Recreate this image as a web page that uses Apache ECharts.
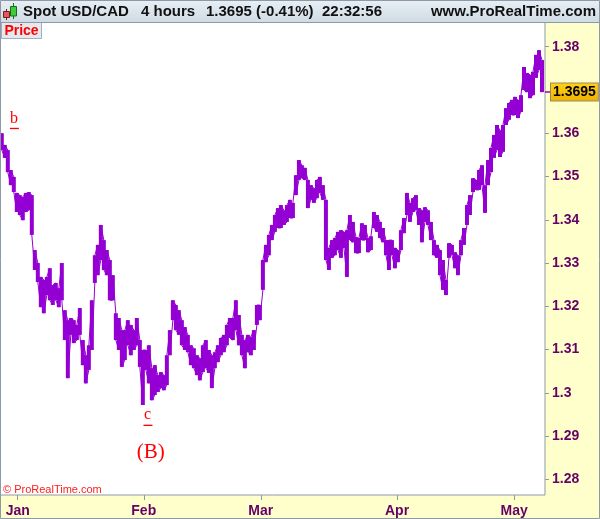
<!DOCTYPE html>
<html><head><meta charset="utf-8">
<script src="https://cdn.jsdelivr.net/npm/echarts@6/dist/echarts.min.js"></script>
<style>html,body{margin:0;padding:0;background:#ffffcc}#c{width:600px;height:519px}</style>
</head><body><div id="c"></div>
<script>
// ---- data ----
const monthLabels = ['Jan', 'Feb', 'Mar', 'Apr', 'May'];
const monthTickAt = [5.3, 47.3, 86.3, 131.7, 170.7]; // sample index where each month starts
const priceTicks = [1.28, 1.29, 1.30, 1.31, 1.32, 1.33, 1.34, 1.35, 1.36, 1.37, 1.38];
const priceTickLabels = ['1.28', '1.29', '1.3', '1.31', '1.32', '1.33', '1.34', '1.35', '1.36', '1.37', '1.38'];
const shownPriceTicks = [1.28, 1.29, 1.30, 1.31, 1.32, 1.33, 1.34, 1.35, 1.36, 1.38];
// 4-hour price range, one entry per sample (high / low)
const hi = [
1.3600,1.3573,1.3561,1.3515,1.3499,1.3462,1.3457,1.3453,1.3462,1.3464,
1.3457,1.3330,1.3300,1.3268,1.3261,1.3268,1.3288,1.3249,1.3254,1.3242,
1.3300,1.3191,1.3168,1.3173,1.3168,1.3157,1.3196,1.3122,1.3087,1.3110,
1.3214,1.3318,1.3342,1.3388,1.3353,1.3330,1.3307,1.3272,1.3184,1.3173,
1.3145,1.3145,1.3168,1.3157,1.3145,1.3173,1.3122,1.3099,1.3099,1.3110,
1.3057,1.3064,1.3041,1.3048,1.3041,1.3087,1.3145,1.3214,1.3203,1.3191,
1.3168,1.3152,1.3134,1.3110,1.3103,1.3087,1.3080,1.3110,1.3122,1.3099,
1.3087,1.3094,1.3110,1.3127,1.3134,1.3157,1.3173,1.3173,1.3214,1.3180,
1.3134,1.3122,1.3134,1.3130,1.3145,1.3203,1.3203,1.3307,1.3342,1.3365,
1.3388,1.3411,1.3427,1.3434,1.3422,1.3434,1.3446,1.3439,1.3503,1.3538,
1.3526,1.3520,1.3492,1.3480,1.3473,1.3492,1.3499,1.3480,1.3446,1.3335,
1.3353,1.3358,1.3372,1.3376,1.3372,1.3376,1.3411,1.3395,1.3360,1.3358,
1.3392,1.3388,1.3358,1.3362,1.3418,1.3411,1.3395,1.3381,1.3353,1.3353,
1.3353,1.3335,1.3330,1.3376,1.3404,1.3462,1.3439,1.3450,1.3457,1.3427,
1.3422,1.3429,1.3422,1.3395,1.3353,1.3342,1.3330,1.3307,1.3261,1.3346,
1.3342,1.3325,1.3318,1.3353,1.3381,1.3434,1.3457,1.3496,1.3492,1.3515,
1.3526,1.3480,1.3538,1.3566,1.3596,1.3619,1.3607,1.3619,1.3658,1.3670,
1.3677,1.3684,1.3677,1.3688,1.3753,1.3739,1.3735,1.3742,1.3781,1.3792,
1.3769];
const lo = [
1.3561,1.3543,1.3510,1.3480,1.3464,1.3418,1.3411,1.3399,1.3418,1.3422,
1.3365,1.3284,1.3256,1.3198,1.3184,1.3226,1.3214,1.3203,1.3214,1.3198,
1.3214,1.3122,1.3034,1.3134,1.3115,1.3122,1.3134,1.3064,1.3022,1.3053,
1.3099,1.3254,1.3272,1.3307,1.3284,1.3272,1.3214,1.3214,1.3122,1.3099,
1.3060,1.3076,1.3110,1.3087,1.3099,1.3110,1.3060,1.2972,1.3053,1.3022,
1.2983,1.2995,1.3002,1.3011,1.3006,1.3018,1.3087,1.3168,1.3145,1.3134,
1.3110,1.3099,1.3094,1.3064,1.3057,1.3041,1.3029,1.3048,1.3057,1.3046,
1.3011,1.3057,1.3071,1.3087,1.3094,1.3110,1.3127,1.3122,1.3145,1.3110,
1.3087,1.3057,1.3094,1.3087,1.3099,1.3157,1.3168,1.3238,1.3302,1.3318,
1.3353,1.3372,1.3381,1.3381,1.3388,1.3395,1.3404,1.3404,1.3457,1.3492,
1.3496,1.3492,1.3427,1.3446,1.3439,1.3450,1.3462,1.3446,1.3307,1.3284,
1.3312,1.3318,1.3330,1.3312,1.3335,1.3268,1.3353,1.3348,1.3323,1.3323,
1.3353,1.3353,1.3325,1.3330,1.3381,1.3372,1.3358,1.3348,1.3318,1.3284,
1.3318,1.3288,1.3302,1.3330,1.3369,1.3411,1.3395,1.3418,1.3422,1.3388,
1.3348,1.3395,1.3388,1.3353,1.3318,1.3312,1.3272,1.3238,1.3226,1.3312,
1.3318,1.3288,1.3272,1.3318,1.3342,1.3388,1.3411,1.3464,1.3469,1.3469,
1.3480,1.3416,1.3480,1.3510,1.3543,1.3561,1.3545,1.3557,1.3619,1.3631,
1.3642,1.3642,1.3635,1.3649,1.3700,1.3695,1.3681,1.3688,1.3728,1.3746,
1.3695];
const lastClose = 1.3695;
// wave annotations: [text, sample index, price, font size]
const waveLabels = [['b', 4.1, 1.3633, 16], ['c', 48.6, 1.2949, 16], ['(B)', 49.6, 1.2863, 21]];
const waveUnderlines = [[4.2, 1.3611], [48.7, 1.2925]];

// ---- build ----
const pts = [];
for (let k = 0; k < hi.length; k++) {
  if (k % 2 === 0) { pts.push([k, hi[k]]); pts.push([k, lo[k]]); }
  else { pts.push([k, lo[k]]); pts.push([k, hi[k]]); }
}
const ranges = hi.map((h, k) => [k, h, lo[k]]);
const SANS = '"Liberation Sans", Arial, sans-serif';
const SERIF = '"Liberation Serif", "Times New Roman", serif';
const AXC = '#660066';
const GREY = '#8d9aa6';
const PURPLE = '#9400d3';

const markPts = [];
waveLabels.forEach(w => markPts.push({
  coord: [w[1], w[2]], symbol: 'rect', symbolSize: [0.1, 0.1], itemStyle: {color: 'rgba(0,0,0,0)'},
  label: {show: true, position: 'inside', formatter: w[0], color: '#ff0000', fontFamily: SERIF, fontSize: w[3]}
}));
waveUnderlines.forEach(u => markPts.push({
  coord: [u[0], u[1]], symbol: 'rect', symbolSize: [9, 1.3], itemStyle: {color: '#ff0000'}, label: {show: false}
}));

const yCommon = {type: 'value', position: 'right', min: 1.2764, max: 1.3857, scale: true, splitLine: {show: false}};

const chart = echarts.init(document.getElementById('c'), null, {renderer: 'canvas'});
chart.setOption({
  animation: false,
  backgroundColor: '#ffffcc',
  grid: {left: 0, right: 55, top: 22, bottom: 24, show: true, backgroundColor: '#ffffff', borderColor: GREY, borderWidth: 1,
    containLabel: false, outerBoundsMode: 'none'},
  xAxis: {
    type: 'value', min: -0.6, max: 181,
    axisLine: {show: false, onZero: false}, splitLine: {show: false},
    axisTick: {show: true, customValues: monthTickAt, length: 5, lineStyle: {color: GREY}},
    axisLabel: {show: true, customValues: monthTickAt, margin: 9,
      formatter: v => monthLabels[monthTickAt.findIndex(t => Math.abs(t - v) < 1e-6)],
      color: AXC, fontWeight: 'bold', fontSize: 14, fontFamily: SANS}
  },
  yAxis: [Object.assign({}, yCommon, {
    axisLine: {show: false, onZero: false},
    axisTick: {show: true, customValues: shownPriceTicks, length: 4, lineStyle: {color: GREY}},
    axisLabel: {show: true, customValues: shownPriceTicks, margin: 7,
      formatter: v => priceTickLabels[priceTicks.findIndex(t => Math.abs(t - v) < 1e-9)],
      color: AXC, fontWeight: 'bold', fontSize: 14, fontFamily: SANS}
  }), Object.assign({}, yCommon, {
    axisLine: {show: false, onZero: false},
    axisTick: {show: true, customValues: [lastClose], length: 5, lineStyle: {color: PURPLE, width: 1.5}},
    axisLabel: {show: true, customValues: [lastClose], margin: 6,
      formatter: v => v.toFixed(4),
      color: '#000', fontWeight: 'bold', fontSize: 14, fontFamily: SANS,
      backgroundColor: {type: 'linear', x: 0, y: 0, x2: 0, y2: 1, colorStops: [{offset: 0, color: '#ffd21a'}, {offset: 1, color: '#f0b000'}]},
      borderColor: '#9a8a60', borderWidth: 1, padding: [2, 2, 1, 2]}
  })],
  series: [{
    type: 'custom', data: ranges, encode: {x: 0, y: [1, 2]}, z: 4, clip: true,
    renderItem: (params, api) => {
      const k = api.value(0);
      const a = api.coord([k, api.value(1)]);
      const b = api.coord([k, api.value(2)]);
      const w = 4;
      return {type: 'rect', shape: {x: a[0] - w / 2, y: a[1], width: w, height: Math.max(1, b[1] - a[1])}, style: {fill: PURPLE}};
    }
  }, {
    type: 'line', data: pts, showSymbol: false, symbol: 'none', smooth: false, sampling: null,
    lineStyle: {color: PURPLE, width: 1}, z: 5, clip: true,
    markPoint: {silent: true, animation: false, data: markPts}
  }],
  graphic: [
    {type: 'rect', z: 100, shape: {x: 0, y: 0, width: 600, height: 22},
      style: {fill: {type: 'linear', x: 0, y: 0, x2: 0, y2: 1, colorStops: [{offset: 0, color: '#e8eff5'}, {offset: 1, color: '#cfdbe5'}]}, stroke: null}},
    {type: 'line', z: 101, shape: {x1: 0, y1: 22.5, x2: 600, y2: 22.5}, style: {stroke: GREY, lineWidth: 1}},
    // candle icon
    {type: 'line', z: 102, shape: {x1: 6.5, y1: 9, x2: 6.5, y2: 20}, style: {stroke: '#7a1a1a', lineWidth: 1}},
    {type: 'rect', z: 103, shape: {x: 3.5, y: 11.5, width: 6, height: 6}, style: {fill: '#e05a5a', stroke: '#7a1a1a', lineWidth: 1}},
    {type: 'line', z: 102, shape: {x1: 13.5, y1: 3, x2: 13.5, y2: 19}, style: {stroke: '#1a6a1a', lineWidth: 1}},
    {type: 'rect', z: 103, shape: {x: 10.5, y: 6.5, width: 6, height: 9.5}, style: {fill: '#3ccc3c', stroke: '#1a6a1a', lineWidth: 1}},
    {type: 'text', z: 103, style: {x: 23, y: 12, text: 'Spot USD/CAD', font: 'bold 15px ' + SANS, fill: '#111', textVerticalAlign: 'middle'}},
    {type: 'text', z: 103, style: {x: 141, y: 12, text: '4 hours', font: 'bold 15px ' + SANS, fill: '#111', textVerticalAlign: 'middle'}},
    {type: 'text', z: 103, style: {x: 206, y: 12, text: '1.3695 (-0.41%)', font: 'bold 15px ' + SANS, fill: '#111', textVerticalAlign: 'middle'}},
    {type: 'text', z: 103, style: {x: 322, y: 12, text: '22:32:56', font: 'bold 15px ' + SANS, fill: '#111', textVerticalAlign: 'middle'}},
    {type: 'text', z: 103, style: {x: 596, y: 12, text: 'www.ProRealTime.com', font: 'bold 15px ' + SANS, fill: '#111', textAlign: 'right', textVerticalAlign: 'middle'}},
    // Price tag
    {type: 'rect', z: 100, shape: {x: 1.5, y: 22.5, width: 40, height: 16}, style: {fill: '#e3e9ee', stroke: '#a3afba', lineWidth: 1}},
    {type: 'text', z: 101, style: {x: 21.5, y: 31, text: 'Price', font: 'bold 14px ' + SANS, fill: '#ff0000', textAlign: 'center', textVerticalAlign: 'middle'}},
    // copyright
    {type: 'text', z: 101, style: {x: 3, y: 490, text: '\u00a9 ProRealTime.com', font: '11px ' + SANS, fill: '#ff2020', textVerticalAlign: 'middle'}},
    // outer frame
    {type: 'rect', z: 110, shape: {x: 0.5, y: 0.5, width: 599, height: 518}, style: {fill: null, stroke: GREY, lineWidth: 1}}
  ]
});
</script></body></html>
